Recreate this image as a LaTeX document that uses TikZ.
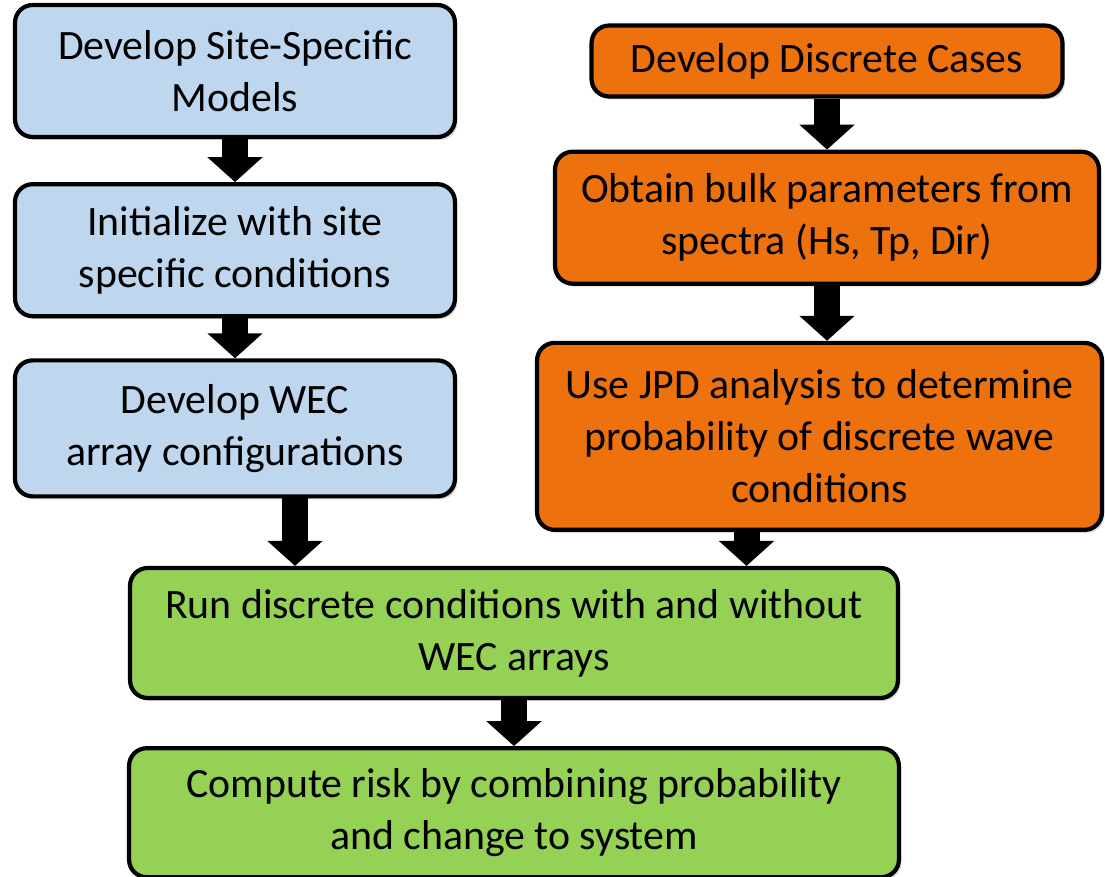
\documentclass[tikz,border=0pt]{standalone}
\usepackage{fontspec}
\setmainfont{Carlito}
\usetikzlibrary{arrows.meta,positioning,calc,shadows}

\definecolor{siteblue}{RGB}{190,215,238}
\definecolor{caseorange}{RGB}{237,113,12}
\definecolor{riskgreen}{RGB}{148,209,84}

\begin{document}
\begin{tikzpicture}[x=0.02cm, y=-0.02cm,
    % --- Box styles ---
    stage/.style={draw, line width=2.4pt, rounded corners=10pt, align=center,
                  inner sep=2pt, font=\fontsize{23.8}{29.6}\selectfont,
                  drop shadow={opacity=0.3, shadow xshift=0.5mm, shadow yshift=-0.6mm}},
    site/.style={stage, fill=siteblue, minimum width=8.8cm},
    cases/.style={stage, fill=caseorange},
    risk/.style={stage, fill=riskgreen},
    % --- Arrow style ---
    flow/.style={line width=0.52cm, -{Triangle[length=0.5cm, width=1.08cm]}},
]
\useasboundingbox (0,0) rectangle (1105,876);

% === Site-specific models on the left ===
\node[site, minimum height=2.64cm] at (235,71) (models) {Develop Site-Specific\\Models};
\node[site, minimum height=2.64cm, below=0.86cm of models] (init) {Initialize with site\\specific conditions};
\node[site, minimum height=2.72cm, below=0.8cm of init] (arrays) {Develop WEC\\array configurations};

% === Discrete cases on the right ===
\node[cases, minimum width=9.42cm, minimum height=1.42cm] at (827,61) (cases) {Develop Discrete Cases};
\node[cases, minimum width=10.88cm, minimum height=2.64cm, below=1.02cm of cases] (bulk)
  {Obtain bulk parameters from\\spectra (Hs, Tp, Dir)};
\node[cases, minimum width=11.3cm, minimum height=3.74cm, below=1.1cm of bulk, xshift=-0.15cm] (jpd)
  {Use JPD analysis to determine\\probability of discrete wave\\conditions};

% === Runs and risk at the bottom ===
\node[risk, minimum width=15.36cm, minimum height=2.6cm] at (514,633) (runs)
  {Run discrete conditions with and without\\WEC arrays};
\node[risk, minimum width=15.4cm, minimum height=2.58cm, below=0.92cm of runs] (risk)
  {Compute risk by combining probability\\and change to system};

% === Block arrows ===
\draw[flow] (models) -- (init);
\draw[flow] (init) -- (arrays);
\draw[flow] ([xshift=1.2cm]arrays.south) -- ([xshift=1.2cm]arrays.south |- runs.north);
\draw[flow] (cases) -- (cases |- bulk.north);
\draw[flow] (bulk.south) -- (bulk.south |- jpd.north);
\draw[flow] ([xshift=-1.46cm]jpd.south) -- ([xshift=-1.46cm]jpd.south |- runs.north);
\draw[flow] (runs) -- (risk);

\end{tikzpicture}
\end{document}
